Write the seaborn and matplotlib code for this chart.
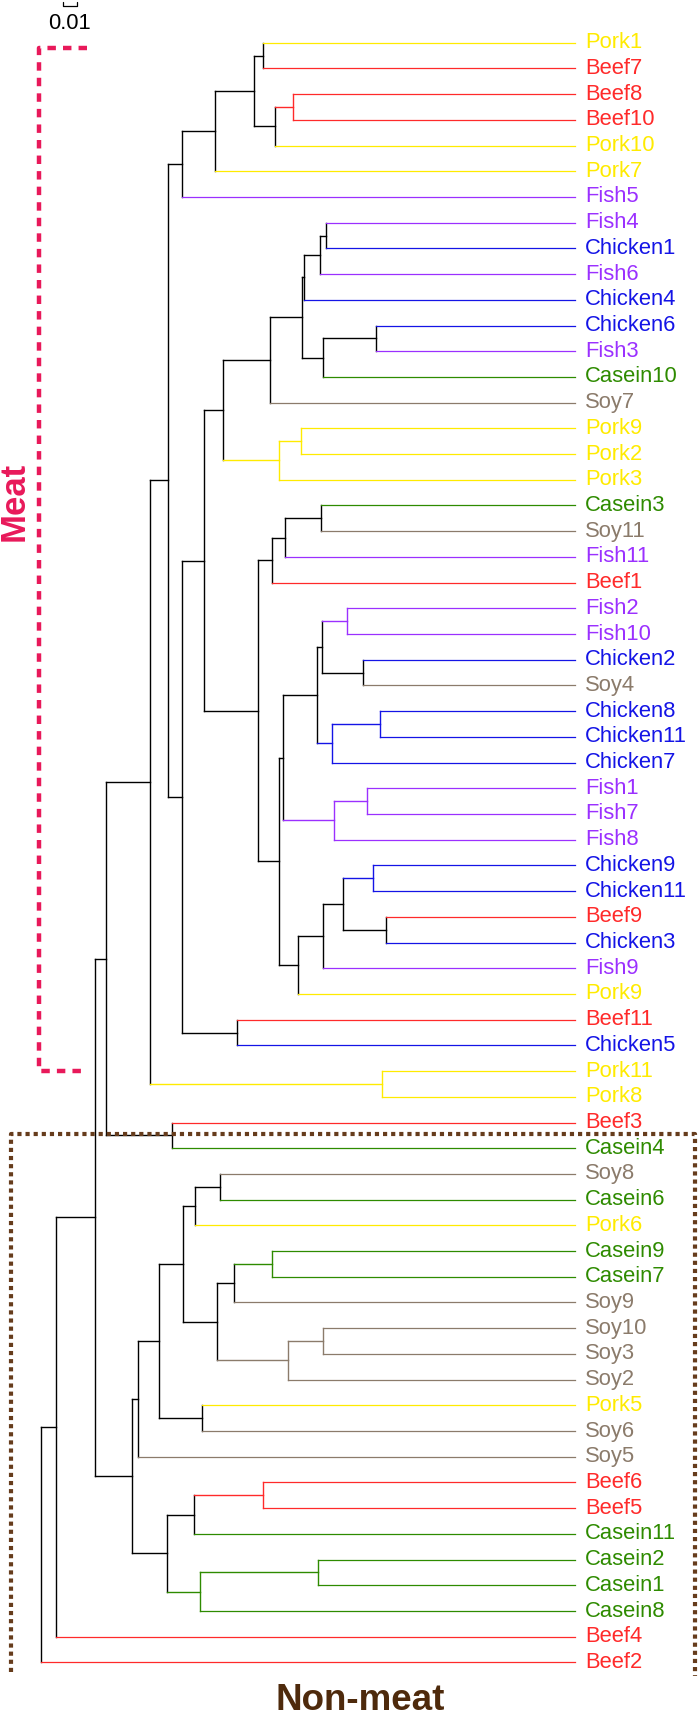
import matplotlib
matplotlib.use("Agg")
import matplotlib.pyplot as plt
from matplotlib.collections import LineCollection
import seaborn as sns

# leaf labels, top to bottom
leaves = [
    "Pork1", "Beef7", "Beef8", "Beef10", "Pork10", "Pork7", "Fish5", "Fish4",
    "Chicken1", "Fish6", "Chicken4", "Chicken6", "Fish3", "Casein10", "Soy7", "Pork9",
    "Pork2", "Pork3", "Casein3", "Soy11", "Fish11", "Beef1", "Fish2", "Fish10",
    "Chicken2", "Soy4", "Chicken8", "Chicken11", "Chicken7", "Fish1", "Fish7", "Fish8",
    "Chicken9", "Chicken11", "Beef9", "Chicken3", "Fish9", "Pork9", "Beef11", "Chicken5",
    "Pork11", "Pork8", "Beef3", "Casein4", "Soy8", "Casein6", "Pork6", "Casein9",
    "Casein7", "Soy9", "Soy10", "Soy3", "Soy2", "Pork5", "Soy6", "Soy5",
    "Beef6", "Beef5", "Casein11", "Casein2", "Casein1", "Casein8", "Beef4", "Beef2",
]

# merges: (node, child_a, child_b, distance from root); ints are leaf indices
merges = [
    ("A", 0, 1, 0.1586), ("B", 2, 3, 0.1804), ("C", "B", 4, 0.1676),
    ("D", "A", "C", 0.1523), ("E", "D", 5, 0.1245), ("F", "E", 6, 0.1009),
    ("I", 7, 8, 0.2037), ("J", "I", 9, 0.1996), ("K", "J", 10, 0.1884),
    ("L", 11, 12, 0.2398), ("M", "L", 13, 0.2014), ("N", "K", "M", 0.1864),
    ("O", "N", 14, 0.1641), ("P", 15, 16, 0.1861), ("Q", "P", 17, 0.1701),
    ("R", "O", "Q", 0.1303), ("S", 18, 19, 0.1999), ("T", "S", 20, 0.1743),
    ("U", "T", 21, 0.1651), ("V", 22, 23, 0.2190), ("W", 24, 25, 0.2299),
    ("X", "V", "W", 0.2011), ("Y", 26, 27, 0.2420), ("Z", "Y", 28, 0.2081),
    ("AA", "X", "Z", 0.1973), ("AB", 29, 30, 0.2331), ("AC", "AB", 31, 0.2094),
    ("AD", "AA", "AC", 0.1731), ("AE", 32, 33, 0.2375), ("AF", 34, 35, 0.2468),
    ("AG", "AE", "AF", 0.2158), ("AH", "AG", 36, 0.2014), ("AI", "AH", 37, 0.1839),
    ("AJ", "AD", "AI", 0.1705), ("AK", "U", "AJ", 0.1551), ("AL", "R", "AK", 0.1165),
    ("AM", 38, 39, 0.1399), ("AN", "AL", "AM", 0.1009), ("AO", "F", "AN", 0.0906),
    ("AP", 40, 41, 0.2436), ("AQ", "AO", "AP", 0.0782), ("AR", 42, 43, 0.0941),
    ("AS", "AQ", "AR", 0.0469), ("AT", 44, 45, 0.1280), ("AU", "AT", 46, 0.1104),
    ("AV", 47, 48, 0.1651), ("AW", "AV", 49, 0.1379), ("AX", 50, 51, 0.2014),
    ("AY", "AX", 52, 0.1769), ("AZ", "AW", "AY", 0.1261), ("BA", "AU", "AZ", 0.1019),
    ("BB", 53, 54, 0.1152), ("BC", "BA", "BB", 0.0843), ("BD", "BC", 55, 0.0693),
    ("BE", 56, 57, 0.1590), ("BF", "BE", 58, 0.1098), ("BG", 59, 60, 0.1979),
    ("BH", "BG", 61, 0.1136), ("BI", "BF", "BH", 0.0900), ("BJ", "BD", "BI", 0.0654),
    ("BK", "AS", "BJ", 0.0389), ("BL", "BK", 62, 0.0109), ("root", "BL", 63, 0.0),
]
tip_depth = 0.3816
scale_bar = 0.01

palette = {
    "Pork": "#FFEB00", "Beef": "#FF2A2A", "Fish": "#9B30FF",
    "Chicken": "#1414E6", "Casein": "#2E8B00", "Soy": "#8B7B6B",
}

sns.set_theme(style="white")
plt.rcParams["font.family"] = ["Liberation Sans", "DejaVu Sans"]

def category(name):
    return name.rstrip("0123456789")

# positions of every node
ypos = {i: float(i) for i in range(len(leaves))}
xpos = {i: tip_depth for i in range(len(leaves))}
cats = {i: {category(n)} for i, n in enumerate(leaves)}
parent_x = {}
for node, a, b, d in merges:
    ypos[node] = (ypos[a] + ypos[b]) / 2
    xpos[node] = d
    cats[node] = cats[a] | cats[b]
    parent_x[a] = d
    parent_x[b] = d

def node_color(key):
    c = cats[key]
    return palette[next(iter(c))] if len(c) == 1 else "black"

segs, cols, lws = [], [], []
for node, a, b, d in merges:
    segs.append([(d, ypos[a]), (d, ypos[b])])
    cols.append(node_color(node))
    lws.append(1.0)
for key, px in parent_x.items():
    segs.append([(px, ypos[key]), (xpos[key], ypos[key])])
    cols.append(node_color(key))
    lws.append(0.9 if isinstance(key, int) else 1.0)

W, H = 700, 1718
fig = plt.figure(figsize=(W / 100, H / 100), dpi=100)
ax = fig.add_axes([0, 0, 1, 1])
ax.set_facecolor("white")

# map tree units to the page
x0_px, px_per_unit = 40.7, 1400.0
y0_px, leaf_px = 42.7, 25.71
ax.set_xlim(-x0_px / px_per_unit, (W - x0_px) / px_per_unit)
ax.set_ylim((H - y0_px) / leaf_px, -y0_px / leaf_px)
ax.axis("off")

ax.add_collection(LineCollection(segs, colors=cols, linewidths=lws, capstyle="projecting"))

for i, name in enumerate(leaves):
    ax.annotate(name, (tip_depth, ypos[i]), xytext=(7.2, 0), textcoords="offset points",
                va="center", ha="left", fontsize=15.8, color=palette[category(name)])

# scale bar
sb_x = 0.0159
sb_top, sb_bot = -1.58, -1.43
ax.plot([sb_x, sb_x, sb_x + scale_bar, sb_x + scale_bar], [sb_top, sb_bot, sb_bot, sb_top],
        color="black", lw=0.9)
ax.text(sb_x + scale_bar / 2, -0.73, "0.01", ha="center", va="center", fontsize=15.8, color="black")

# group annotations in page pixels
ov = fig.add_axes([0, 0, 1, 1])
ov.set_xlim(0, W)
ov.set_ylim(H, 0)
ov.axis("off")
ov.patch.set_alpha(0)

meat = "#E8195A"
ov.plot([87, 39, 39, 88], [48, 48, 1071, 1071], color=meat, lw=3.2,
        linestyle=(0, (1.9, 1.6)), solid_capstyle="butt", dash_capstyle="butt")
ov.text(14, 501, "Meat", rotation=90, ha="center", va="center", fontsize=25,
        fontweight="bold", color=meat)

brown = "#663C1C"
ov.plot([11, 11, 695, 695], [1672, 1134, 1134, 1676], color=brown, lw=3.0,
        linestyle=(0, (1, 0.95)), dash_capstyle="butt")
ov.text(360, 1701, "Non-meat", ha="center", va="center", fontsize=26.5,
        fontweight="bold", color="#4E2A0C")

fig.savefig("out.png", dpi=100, facecolor="white")
